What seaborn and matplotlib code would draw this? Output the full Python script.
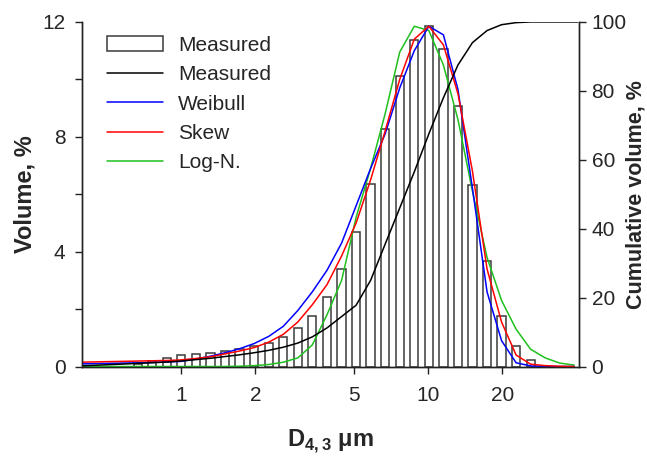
import matplotlib
matplotlib.use('Agg')
import matplotlib.pyplot as plt
from matplotlib.patches import Patch
from matplotlib.lines import Line2D
from matplotlib.ticker import FixedLocator, NullLocator, FixedFormatter
import seaborn as sns

# bin centres of the measured distribution (um)
size_um = [0.667, 0.764, 0.875, 1.0, 1.148, 1.316, 1.507, 1.726, 1.977, 2.265,
           2.594, 2.97, 3.40, 3.90, 4.47, 5.12, 5.86, 6.71, 7.69, 8.81,
           10.09, 11.56, 13.24, 15.16, 17.37, 19.89, 22.78, 26.1]
volume_measured = [0.1, 0.19, 0.3, 0.39, 0.42, 0.47, 0.54, 0.61, 0.71, 0.83,
                   1.04, 1.33, 1.77, 2.43, 3.38, 4.69, 6.37, 8.28, 10.1, 11.36,
                   11.85, 11.07, 9.07, 6.31, 3.66, 1.75, 0.71, 0.24]

# fitted curves (volume %)
fit_size_um = [0.388, 0.444, 0.508, 0.582] + size_um + [29.9, 34.2, 39.2]
weibull = [0.09, 0.10, 0.11, 0.12,
           0.13, 0.14, 0.16, 0.18, 0.26, 0.36, 0.48, 0.62, 0.8, 1.05,
           1.4, 1.95, 2.6, 3.35, 4.3, 5.6, 6.9, 8.1, 9.7, 11.0,
           11.85, 11.55, 9.65, 6.2, 2.6, 0.9, 0.13, 0.02,
           0.0, 0.0, 0.0]
skew = [0.15, 0.16, 0.17, 0.18,
        0.19, 0.20, 0.21, 0.23, 0.28, 0.34, 0.44, 0.54, 0.66, 0.85,
        1.12, 1.55, 2.15, 2.85, 3.85, 5.0, 6.5, 8.2, 10.0, 11.4,
        11.85, 11.2, 9.5, 6.8, 3.4, 1.55, 0.4, 0.08,
        0.03, 0.01, 0.0]
log_normal = [0.0, 0.0, 0.0, 0.0,
              0.0, 0.0, 0.0, 0.0, 0.0, 0.0, 0.0, 0.01, 0.03, 0.07,
              0.15, 0.3, 0.75, 1.8, 3.0, 5.2, 6.9, 8.8, 10.95, 11.85,
              11.7, 10.5, 8.6, 6.1, 3.8, 2.3, 1.3, 0.6,
              0.3, 0.12, 0.05]

# cumulative measured volume (%)
cum_size_um = [0.398] + size_um + [40.5]
cum_volume = [0.2,
              0.9, 1.1, 1.3, 1.6, 2.0, 2.4, 2.9, 3.4, 4.0, 4.7,
              5.6, 6.8, 8.6, 11.2, 14.5, 17.8, 25.0, 35.5, 46.0, 56.5,
              67.5, 78.0, 87.5, 94.0, 97.5, 99.2, 99.8, 100.0,
              100.0]


def main():
    sns.set_style('ticks')
    plt.rcParams['font.family'] = ['Liberation Sans', 'DejaVu Sans']
    plt.rcParams['mathtext.fontset'] = 'custom'
    plt.rcParams['mathtext.rm'] = 'Liberation Sans'
    plt.rcParams['mathtext.bf'] = 'Liberation Sans:bold'

    fig, ax = plt.subplots(figsize=(6.47, 4.57), dpi=100)
    fig.subplots_adjust(left=0.127, right=0.895, bottom=0.198, top=0.952)
    ax.set_xscale('log')
    ax2 = ax.twinx()

    # bars of the measured distribution, constant width in log space
    half = 10 ** 0.0168
    lefts = [c / half for c in size_um]
    widths = [c * half - c / half for c in size_um]
    ax.bar(lefts, volume_measured, width=widths, align='edge', color='white',
           edgecolor='#3a3a3a', linewidth=1.1, zorder=2)

    sns.lineplot(x=fit_size_um, y=weibull, ax=ax, color='#0000ff', lw=1.1,
                 sort=False, zorder=4)
    sns.lineplot(x=fit_size_um, y=skew, ax=ax, color='#ff0000', lw=1.1,
                 sort=False, zorder=5)
    sns.lineplot(x=fit_size_um, y=log_normal, ax=ax, color='#1ec01e', lw=1.1,
                 sort=False, zorder=3)
    sns.lineplot(x=cum_size_um, y=cum_volume, ax=ax2, color='black', lw=1.1,
                 sort=False)

    ax.set_xlim(0.397, 41)
    ax.set_ylim(0, 12)
    ax2.set_ylim(0, 100)

    ax.xaxis.set_major_locator(FixedLocator([1, 2, 5, 10, 20]))
    ax.xaxis.set_major_formatter(FixedFormatter(['1', '2', '5', '10', '20']))
    ax.xaxis.set_minor_locator(NullLocator())
    ax.yaxis.set_major_locator(FixedLocator([0, 4, 8, 12]))
    ax.yaxis.set_minor_locator(FixedLocator([2, 6, 10]))
    ax2.yaxis.set_major_locator(FixedLocator([0, 20, 40, 60, 80, 100]))

    for a in (ax, ax2):
        a.spines['top'].set_visible(False)
        for s in a.spines.values():
            s.set_linewidth(1.0)
            s.set_color('#222222')
        a.tick_params(which='both', direction='out', length=5, width=1,
                      color='#222222', labelsize=15, pad=7)
    ax.tick_params(axis='x', pad=9)
    ax2.tick_params(axis='y', pad=4)

    ax.set_xlabel(r'D$_{\mathbf{4,3}}$ $\mathbf{\mu}$m', fontsize=17,
                  fontweight='bold', labelpad=16)
    ax.set_ylabel('Volume, %', fontsize=17, fontweight='bold', labelpad=4)
    ax2.set_ylabel('Cumulative volume, %', fontsize=15.5, fontweight='bold',
                   labelpad=-1)

    handles = [
        Patch(facecolor='white', edgecolor='#3a3a3a', linewidth=1.1),
        Line2D([], [], color='black', lw=1.1),
        Line2D([], [], color='#0000ff', lw=1.1),
        Line2D([], [], color='#ff0000', lw=1.1),
        Line2D([], [], color='#1ec01e', lw=1.1),
    ]
    labels = ['Measured', 'Measured', 'Weibull', 'Skew', 'Log-N.']
    ax2.legend(handles, labels, loc='upper left', bbox_to_anchor=(0.05, 0.96),
               frameon=False, fontsize=15, handlelength=2.7,
               handletextpad=0.7, labelspacing=0.5, borderpad=0,
               borderaxespad=0)

    fig.savefig('out.png', dpi=100)


if __name__ == '__main__':
    main()
